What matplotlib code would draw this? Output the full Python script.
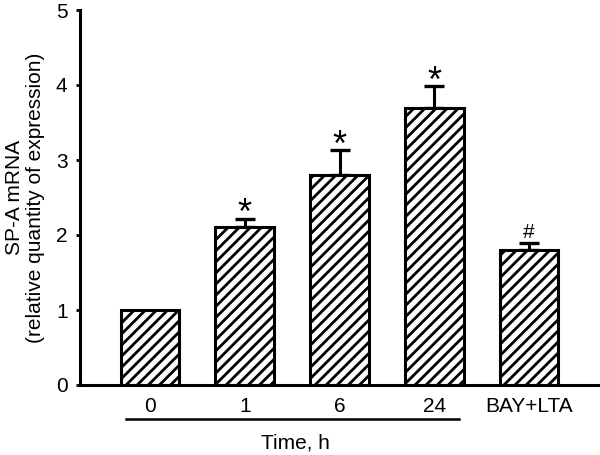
import matplotlib
matplotlib.use("Agg")
import matplotlib.pyplot as plt
import numpy as np

plt.rcParams['font.family'] = ['Liberation Sans', 'DejaVu Sans']
plt.rcParams['hatch.linewidth'] = 2.0

groups = ['0', '1', '6', '24', 'BAY+LTA']
means = [1.0, 2.11, 2.80, 3.70, 1.80]
sems = [0.0, 0.11, 0.33, 0.29, 0.09]
marks = ['', '*', '*', '*', '#']

fig = plt.figure(figsize=(6, 4.55), dpi=100)
ax = fig.add_axes([80 / 600, 70 / 455, 520 / 600, 375 / 455])

x = np.arange(len(groups))
ax.bar(x, means, width=0.62, color='white', edgecolor='black',
       linewidth=2.2, hatch='///', zorder=2)
ax.errorbar(x[1:], means[1:], yerr=[np.zeros(len(x) - 1), sems[1:]],
            fmt='none', ecolor='black', elinewidth=2.2, capsize=7,
            capthick=2.4, zorder=1)

for xi, m, s, t in zip(x, means, sems, marks):
    if not t:
        continue
    fs = 26 if t == '*' else 15
    off = -10 if t == '*' else 1
    ax.annotate(t, (xi, m + s), xytext=(0, off), textcoords='offset points',
                ha='center', va='bottom', fontsize=fs)

ax.set_xlim(-0.74, 4.75)
ax.set_ylim(0, 5)
ax.set_yticks([0, 1, 2, 3, 4, 5])
ax.set_xticks(x)
ax.set_xticklabels(groups)
ax.tick_params(axis='x', length=0, pad=9, labelsize=15)
ax.tick_params(axis='y', length=3, width=2, pad=6, labelsize=15)

for side in ['top', 'right']:
    ax.spines[side].set_visible(False)
for side in ['left', 'bottom']:
    ax.spines[side].set_linewidth(2.2)

ax.set_ylabel('SP-A mRNA\n(relative quantity of expression)', fontsize=15,
              linespacing=1.1)
ax.yaxis.set_label_coords(-0.068, 0.5)

# underline for time points
ax.plot([-0.25, 3.26], [-0.09, -0.09], transform=ax.get_xaxis_transform(),
        color='black', lw=1.8, clip_on=False)
ax.text(1.53, -0.155, 'Time, h', transform=ax.get_xaxis_transform(),
        ha='center', va='center', fontsize=15)

plt.savefig('out.png', dpi=100)
